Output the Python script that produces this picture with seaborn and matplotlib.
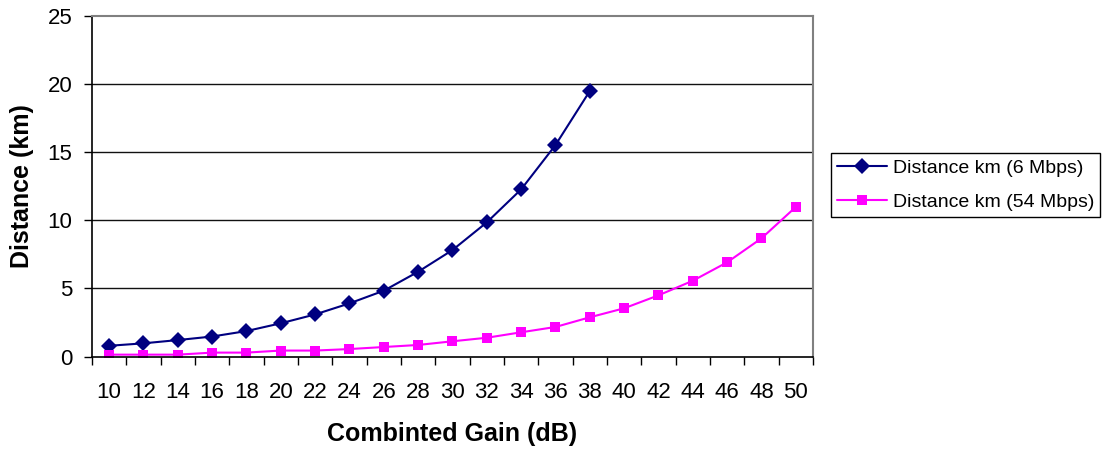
import matplotlib
matplotlib.use("Agg")
import matplotlib.pyplot as plt
import seaborn as sns
import pandas as pd
from matplotlib.ticker import FixedLocator

gain_6 = [10, 12, 14, 16, 18, 20, 22, 24, 26, 28, 30, 32, 34, 36, 38]
dist_6 = [0.80, 0.98, 1.22, 1.48, 1.88, 2.45, 3.10, 3.91, 4.84, 6.23, 7.82, 9.85, 12.27, 15.52, 19.48]

gain_54 = [10, 12, 14, 16, 18, 20, 22, 24, 26, 28, 30, 32, 34, 36, 38, 40, 42, 44, 46, 48, 50]
dist_54 = [0.15, 0.15, 0.15, 0.30, 0.30, 0.45, 0.45, 0.56, 0.71, 0.86, 1.13, 1.39, 1.79, 2.18,
           2.89, 3.55, 4.50, 5.57, 6.92, 8.68, 10.98]

label_6 = "Distance km (6 Mbps)"
label_54 = "Distance km (54 Mbps)"
x_ticks = list(range(10, 52, 2))
y_ticks = [0, 5, 10, 15, 20, 25]

df = pd.concat([
    pd.DataFrame({"gain": gain_6, "dist": dist_6, "series": label_6}),
    pd.DataFrame({"gain": gain_54, "dist": dist_54, "series": label_54}),
])

sns.set_theme(style="white")
plt.rcParams["font.family"] = ["Liberation Sans", "DejaVu Sans"]
plt.rcParams["text.color"] = "black"
plt.rcParams["axes.labelcolor"] = "black"
plt.rcParams["xtick.color"] = "black"
plt.rcParams["ytick.color"] = "black"

fig = plt.figure(figsize=(11.03, 4.49), dpi=100)
ax = fig.add_axes([92 / 1103, 1 - 356.7 / 449, (813 - 92) / 1103, (356.7 - 15.7) / 449])

sns.lineplot(data=df, x="gain", y="dist", hue="series", style="series",
             palette={label_6: "#000080", label_54: "#FF00FF"},
             markers={label_6: "D", label_54: "s"}, dashes=False,
             markersize=8, markeredgewidth=0, linewidth=1.5, ax=ax, legend=False)
for ln in ax.lines:
    if ln.get_marker() == "s":
        ln.set_markersize(7.5)

ax.set_xlim(9, 51)
ax.set_ylim(0, 25)
ax.set_xticks(x_ticks)
ax.set_xticklabels([str(t) for t in x_ticks], fontsize=16, color="black")
ax.xaxis.set_minor_locator(FixedLocator(list(range(9, 53, 2))))
ax.tick_params(axis="x", which="major", length=0, pad=18)
ax.tick_params(axis="x", which="minor", direction="out", length=6, width=1, color="black", bottom=True)
ax.set_yticks(y_ticks)
ax.set_yticklabels([str(t) for t in y_ticks], fontsize=16, color="black")
ax.tick_params(axis="y", direction="out", length=6, width=1, color="black", left=True, pad=8)

for y in [5, 10, 15, 20]:
    ax.axhline(y, color="#111111", linewidth=1, zorder=0)

for side in ["top", "right"]:
    ax.spines[side].set_color("#808080")
    ax.spines[side].set_linewidth(1.5)
for side in ["left", "bottom"]:
    ax.spines[side].set_color("black")
    ax.spines[side].set_linewidth(1.2)

ax.set_xlabel("Combinted Gain (dB)", fontsize=18, fontweight="bold", labelpad=14, color="black")
ax.set_ylabel("Distance (km)", fontsize=18, fontweight="bold", labelpad=10, color="black")

handles = ax.lines[:2]
leg = fig.legend(handles, [label_6, label_54], loc="center left",
                 bbox_to_anchor=(831 / 1103, 1 - 185 / 449), fontsize=14,
                 frameon=True, fancybox=False, edgecolor="black", framealpha=1,
                 handlelength=2.6, handletextpad=0.3, borderpad=0.3, labelspacing=0.85,
                 borderaxespad=0, numpoints=1)
leg.get_frame().set_linewidth(1)
for t in leg.get_texts():
    t.set_color("black")

fig.savefig("out.png", dpi=100)
